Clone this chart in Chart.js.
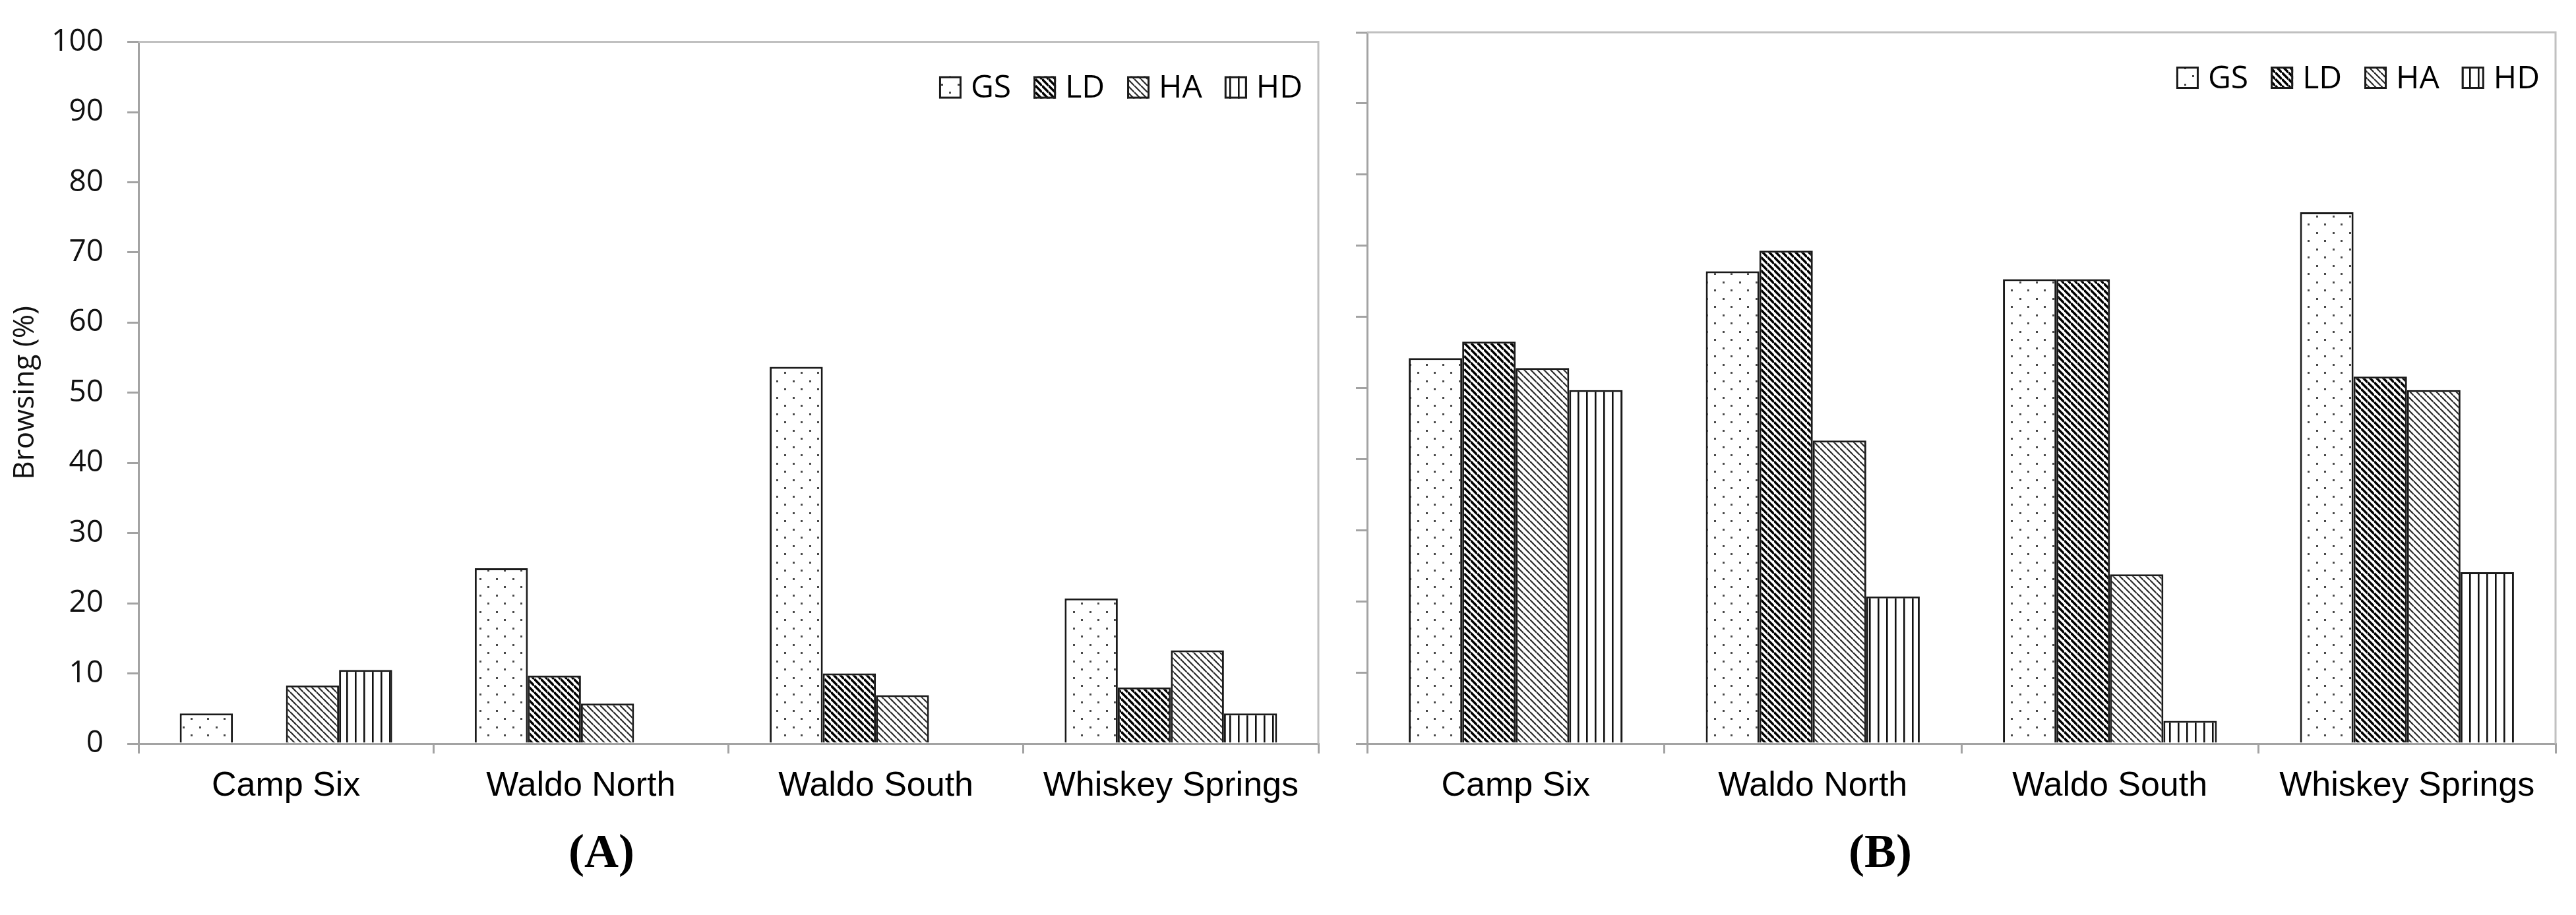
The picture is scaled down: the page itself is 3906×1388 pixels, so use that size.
<!DOCTYPE html>
<html>
<head>
<meta charset="utf-8">
<script src="https://cdn.jsdelivr.net/npm/chart.js@4.4.1/dist/chart.umd.min.js"></script>
<style>
  html, body { margin: 0; padding: 0; background: #fff; }
  body { width: 3906px; height: 1388px; position: relative; overflow: hidden; }
  canvas { position: absolute; top: 0; }
  #chartA { left: 0; }
  #chartB { left: 2010px; }
  .panel-tag {
    position: absolute; top: 1250px; width: 300px; margin-left: -150px;
    text-align: center; font: bold 72px "Liberation Serif", serif; color: #000;
  }
</style>
</head>
<body>
<canvas id="chartA" width="2010" height="1260"></canvas>
<canvas id="chartB" width="1896" height="1260"></canvas>
<div class="panel-tag" style="left: 912px;">(<b>A</b>)</div>
<div class="panel-tag" style="left: 2851px;">(<b>B</b>)</div>
<script>
// categories and series
const sites = ['Camp Six', 'Waldo North', 'Waldo South', 'Whiskey Springs'];
const seriesNames = ['GS', 'LD', 'HA', 'HD'];
const yTicks = [0, 10, 20, 30, 40, 50, 60, 70, 80, 90, 100];

// panel A values (%)
const gsA = [4.3, 25.0, 53.7, 20.7];
const ldA = [0, 9.7, 10.0, 8.0];
const haA = [8.3, 5.7, 6.9, 13.3];
const hdA = [10.5, 0, 0, 4.3];

// panel B values (%)
const gsB = [54.2, 66.4, 65.3, 74.7];
const ldB = [56.5, 69.3, 65.3, 51.6];
const haB = [52.8, 42.6, 23.8, 49.7];
const hdB = [49.7, 20.7, 3.2, 24.1];

const AXIS_GRAY = '#a3a3a3';
const FRAME_GRAY = '#c0c0c0';
const BAR_EDGE = '#1a1a1a';
const LEGEND_FONT = '48px "Open Sans", sans-serif';

// hatch fills like the old Excel pattern fills
const makePattern = (kind) => {
    const tile = document.createElement('canvas');
    const size = kind === 'dots' ? 25 : (kind === 'vert' ? 13 : 10);
    tile.width = size;
    tile.height = size;
    const t = tile.getContext('2d');
    t.fillStyle = '#fff';
    t.fillRect(0, 0, size, size);
    if (kind === 'dots') {
        t.fillStyle = '#4a4a4a';
        t.fillRect(2, 2, 3, 3);
        t.fillRect(14, 14, 3, 3);
    } else if (kind === 'vert') {
        t.fillStyle = '#111';
        t.fillRect(5, 0, 2.6, size);
    } else {
        t.strokeStyle = kind === 'dense' ? '#000' : '#2a2a2a';
        t.lineWidth = kind === 'dense' ? 3.6 : 2.2;
        for (let k = -1; k <= 1; k++) {
            t.beginPath();
            t.moveTo(0, k * size);
            t.lineTo(size, size + k * size);
            t.stroke();
        }
    }
    return document.createElement('canvas').getContext('2d').createPattern(tile, 'repeat');
};

const fills = [makePattern('dots'), makePattern('dense'), makePattern('light'), makePattern('vert')];

const buildDatasets = (rows) => rows.map((values, i) => ({
    label: seriesNames[i],
    data: values,
    backgroundColor: fills[i],
    borderColor: BAR_EDGE,
    borderWidth: 3,
    borderSkipped: 'start',
    categoryPercentage: 0.72,
    barPercentage: 1.0
}));

// top and right frame lines of each plot
const frameLines = {
    id: 'frameLines',
    beforeDatasetsDraw(chart) {
        const {ctx, chartArea} = chart;
        ctx.save();
        ctx.strokeStyle = FRAME_GRAY;
        ctx.lineWidth = 3;
        ctx.beginPath();
        ctx.moveTo(chartArea.left, chartArea.top);
        ctx.lineTo(chartArea.right, chartArea.top);
        ctx.lineTo(chartArea.right, chartArea.bottom);
        ctx.stroke();
        ctx.restore();
    }
};

// one-row legend sitting inside the plot, top right
const insideLegend = {
    id: 'insideLegend',
    afterDatasetsDraw(chart) {
        const {ctx, chartArea} = chart;
        const box = 34, gap = 14, itemGap = 34, cy = chartArea.top + 69;
        ctx.save();
        ctx.font = LEGEND_FONT;
        ctx.textBaseline = 'middle';
        const items = chart.data.datasets.map(ds => ({ds, w: ctx.measureText(ds.label).width}));
        const total = items.reduce((s, it) => s + box + gap + it.w, 0) + itemGap * (items.length - 1);
        let x = chartArea.right - 24 - total;
        items.forEach(({ds, w}) => {
            ctx.fillStyle = ds.backgroundColor;
            ctx.fillRect(x, cy - box / 2, box, box);
            ctx.strokeStyle = ds.borderColor;
            ctx.lineWidth = 3;
            ctx.strokeRect(x + 1.5, cy - box / 2 + 1.5, box - 3, box - 3);
            ctx.fillStyle = '#000';
            ctx.fillText(ds.label, x + box + gap, cy + 2);
            x += box + gap + w + itemGap;
        });
        ctx.restore();
    }
};

const createPanel = (canvasId, rows, opts) => {
    const ctx = document.getElementById(canvasId).getContext('2d');
    return new Chart(ctx, {
        type: 'bar',
        data: {
            labels: sites,
            datasets: buildDatasets(rows)
        },
        options: {
            responsive: false,
            devicePixelRatio: 1,
            animation: false,
            layout: {
                padding: {top: opts.top, right: opts.right, bottom: 0, left: 0}
            },
            plugins: {
                legend: {display: false},
                tooltip: {enabled: false}
            },
            scales: {
                x: {
                    offset: true,
                    grid: {
                        offset: true,
                        drawOnChartArea: false,
                        tickLength: 15,
                        color: AXIS_GRAY,
                        lineWidth: 3
                    },
                    border: {color: AXIS_GRAY, width: 3},
                    ticks: {
                        color: '#000',
                        padding: 18,
                        font: {family: '"Liberation Sans", Arial, sans-serif', size: 52}
                    },
                    afterFit: (scale) => { scale.height = 132; }
                },
                y: {
                    min: 0,
                    max: 100,
                    afterBuildTicks: (scale) => { scale.ticks = yTicks.map(v => ({value: v})); },
                    grid: {
                        drawOnChartArea: false,
                        tickLength: 17,
                        color: AXIS_GRAY,
                        lineWidth: 3
                    },
                    border: {color: AXIS_GRAY, width: 3},
                    ticks: {
                        display: opts.showLabels,
                        color: '#111',
                        padding: 36,
                        font: {family: '"Open Sans", sans-serif', size: 46}
                    },
                    title: {
                        display: opts.showLabels,
                        text: 'Browsing (%)',
                        color: '#111',
                        padding: {top: 12, bottom: 0},
                        font: {family: '"Open Sans", sans-serif', size: 44}
                    },
                    afterFit: (scale) => { scale.width = opts.axisWidth; }
                }
            }
        },
        plugins: [frameLines, insideLegend]
    });
};

createPanel('chartA', [gsA, ldA, haA, hdA], {top: 46, right: 11, axisWidth: 210, showLabels: true});
createPanel('chartB', [gsB, ldB, haB, hdB], {top: 49, right: 31, axisWidth: 63, showLabels: false});
</script>
</body>
</html>
